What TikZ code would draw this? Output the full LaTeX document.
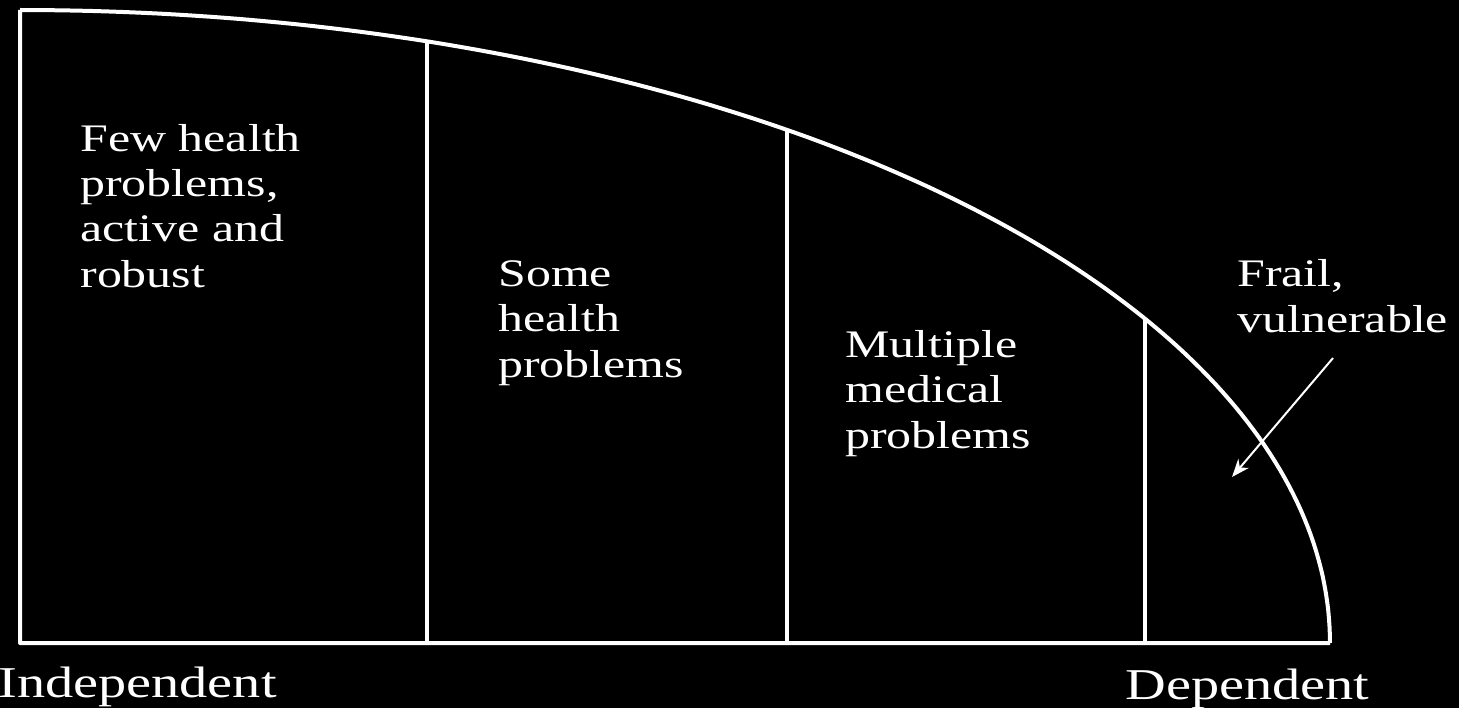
\documentclass[tikz,border=0pt]{standalone}
\usepackage{fontspec}
\setmainfont{Liberation Serif}[FakeStretch=1.28]
\usetikzlibrary{arrows.meta}
\tikzset{
  frame/.style={draw=white, line width=2pt, line join=round},
  divider/.style={draw=white, line width=2pt},
  label/.style={text=white, anchor=base west, align=left, inner sep=0pt,
    font=\fontsize{19.5}{22.6}\selectfont},
  endlabel/.style={text=white, anchor=base west, inner sep=0pt,
    font=\fontsize{22}{26}\selectfont},
  pointer/.style={draw=white, line width=1pt, -{Stealth[length=9pt,width=7pt]}}
}
\begin{document}
\begin{tikzpicture}[x=0.5pt,y=0.5pt]
\fill[black] (0,0) rectangle (1459,708);
\useasboundingbox (0,0) rectangle (1459,708);
% outline: quarter ellipse
\coordinate (topleft) at (20,698);
\coordinate (origin) at (20,65);
\coordinate (endright) at (1330,65);
\draw[frame] (endright) -- (origin) -- (topleft)
  plot[domain=90:0, samples=120] ({20+1310*cos(\x)}, {65+633*sin(\x)});
% dividers
\coordinate (d1t) at (427,666.7);
\coordinate (d1b) at (427,65);
\coordinate (d2t) at (787,578.2);
\coordinate (d2b) at (787,65);
\coordinate (d3t) at (1145,389.3);
\coordinate (d3b) at (1145,65);
\draw[divider] (d1t) -- (d1b);
\draw[divider] (d2t) -- (d2b);
\draw[divider] (d3t) -- (d3b);
% labels (anchor = baseline of last line)
\node[label] (few) at (80,421) {Few health\\problems,\\active and\\robust};
\node[label] (some) at (498,331) {Some\\health\\problems};
\node[label] (multi) at (845,260) {Multiple\\medical\\problems};
\node[label] (frail) at (1237,376) {Frail,\\vulnerable};
\node[endlabel] (indep) at (-2,11) {Independent};
\node[endlabel] (dep) at (1125,9) {Dependent};
% pointer
\coordinate (ptail) at (1333,350);
\coordinate (phead) at (1232,231);
\draw[pointer] (ptail) -- (phead);
\end{tikzpicture}
\end{document}
